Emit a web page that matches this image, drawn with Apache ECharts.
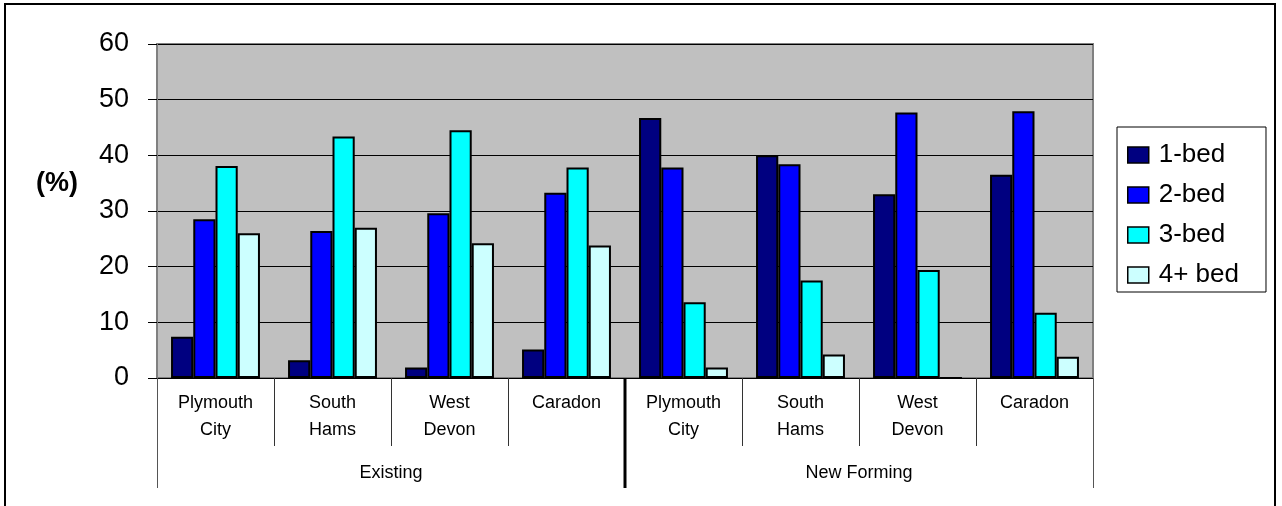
<!DOCTYPE html>
<html>
<head>
<meta charset="utf-8">
<style>
  html, body { margin: 0; padding: 0; background: #fff; }
  #chart { width: 1282px; height: 506px; }
</style>
<script src="https://cdn.jsdelivr.net/npm/echarts@6/dist/echarts.min.js"></script>
</head>
<body>
<div id="chart"></div>
<script>
// Dwelling size mix (%) by district, existing stock vs newly forming households
const categories = ['Plymouth\nCity', 'South\nHams', 'West\nDevon', 'Caradon',
                    'Plymouth\nCity', 'South\nHams', 'West\nDevon', 'Caradon'];
const groups = ['Existing', 'New Forming'];
const seriesNames = ['1-bed', '2-bed', '3-bed', '4+ bed'];
const oneBed   = [7.4, 3.2, 1.9, 5.1, 46.7, 40.0, 33.0, 36.5];
const twoBed   = [28.5, 26.4, 29.6, 33.3, 37.8, 38.4, 47.7, 47.9];
const threeBed = [38.1, 43.4, 44.5, 37.8, 13.6, 17.5, 19.4, 11.7];
const fourBed  = [26.0, 27.0, 24.2, 23.8, 1.9, 4.2, 0, 3.8];
const seriesColors = ['#000080', '#0000FF', '#00FFFF', '#CCFFFF'];
const yMin = 0, yMax = 60, yStep = 10;

const FONT = '"Liberation Sans", Arial, sans-serif';
const chart = echarts.init(document.getElementById('chart'), null, { renderer: 'canvas' });

const values = [oneBed, twoBed, threeBed, fourBed];
const series = seriesNames.map((name, i) => ({
  name: name,
  type: 'bar',
  xAxisIndex: 0,
  yAxisIndex: 0,
  data: values[i],
  barGap: '0%',
  barCategoryGap: '24%',
  itemStyle: { color: seriesColors[i], borderColor: '#000', borderWidth: 2 },
  emphasis: { disabled: true },
  animation: false
}));

// Static decorations: outer frame and the y-axis unit label
const baseGraphics = [
  {
    type: 'rect', silent: true, z: -10,
    shape: { x: 5, y: 4, width: 1270, height: 560 },
    style: { fill: 'none', stroke: '#000', lineWidth: 2 }
  },
  {
    type: 'text', silent: true,
    left: 36, top: 170,
    style: { text: '(%)', fontSize: 27, fontWeight: 'bold', fontFamily: FONT, fill: '#000' }
  }
];

const option = {
  animation: false,
  textStyle: { fontFamily: FONT },
  grid: {
    left: 157, right: 189, top: 44, bottom: 128,
    show: true,
    backgroundColor: '#C0C0C0',
    borderColor: '#808080',
    borderWidth: 2
  },
  legend: {
    orient: 'vertical',
    left: 1117, top: 127,
    padding: [15, 27, 4, 10],
    itemWidth: 21, itemHeight: 16,
    itemGap: 14,
    borderColor: '#000', borderWidth: 1,
    backgroundColor: '#fff',
    icon: 'rect',
    selectedMode: false,
    itemStyle: { borderColor: '#000', borderWidth: 1.5 },
    textStyle: { fontSize: 26, color: '#000', fontFamily: FONT, padding: [0, 0, 0, 5] },
    data: seriesNames
  },
  xAxis: [
    {
      type: 'category',
      position: 'bottom',
      data: categories,
      boundaryGap: true,
      axisLine: { show: true, lineStyle: { color: '#000', width: 1 } },
      axisTick: { show: true, interval: 0, length: 68, lineStyle: { color: '#333', width: 1 } },
      axisLabel: { interval: 0, fontSize: 18, lineHeight: 27, color: '#000', margin: 12, fontFamily: FONT },
      splitLine: { show: false }
    },
    {
      type: 'category',
      position: 'bottom',
      data: groups,
      boundaryGap: true,
      axisLine: { show: false },
      axisTick: { show: true, interval: 0, length: 110, lineStyle: { color: '#555', width: 1 } },
      axisLabel: { interval: 0, fontSize: 18, lineHeight: 27, color: '#000', margin: 82, fontFamily: FONT },
      splitLine: { show: false }
    }
  ],
  yAxis: {
    type: 'value',
    min: yMin, max: yMax, interval: yStep,
    axisLine: { show: true, lineStyle: { color: '#808080', width: 2 } },
    axisTick: { show: true, length: 9, lineStyle: { color: '#000', width: 1 } },
    axisLabel: { fontSize: 27, color: '#000', margin: 28, fontFamily: FONT },
    splitLine: { show: true, lineStyle: { color: '#000', width: 1 } }
  },
  series: series,
  graphic: baseGraphics
};

chart.setOption(option);

// Heavy divider between the Existing and New Forming groups, placed from the axis scale
const half = categories.length / 2;
const xa = chart.convertToPixel({ xAxisIndex: 0 }, half - 1);
const xb = chart.convertToPixel({ xAxisIndex: 0 }, half);
const xDiv = (xa + xb) / 2;
const yBase = chart.convertToPixel({ yAxisIndex: 0 }, yMin);
chart.setOption({
  graphic: baseGraphics.concat([
    {
      type: 'line', silent: true, z: 100,
      shape: { x1: xDiv, y1: yBase, x2: xDiv, y2: yBase + 110 },
      style: { stroke: '#000', lineWidth: 3 }
    }
  ])
});
</script>
</body>
</html>
